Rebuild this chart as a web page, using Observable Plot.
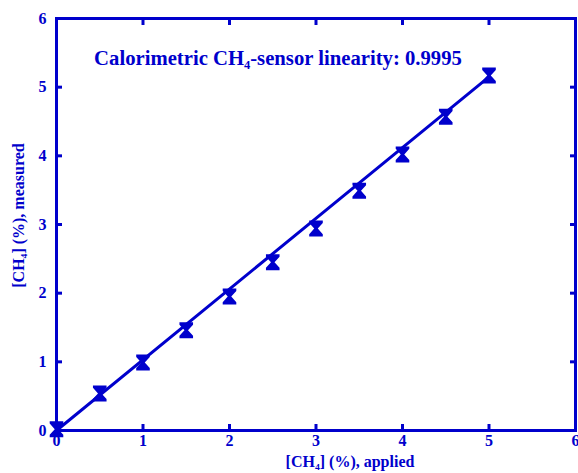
<!DOCTYPE html>
<html>
<head>
<meta charset="utf-8">
<script src="https://cdn.jsdelivr.net/npm/d3@7"></script>
<script src="https://cdn.jsdelivr.net/npm/@observablehq/plot@0.6"></script>
<style>
  html, body { margin: 0; padding: 0; background: #fff; }
</style>
</head>
<body>
<div id="chart"></div>
<script>
const applied = [0, 0.5, 1, 1.5, 2, 2.5, 3, 3.5, 4, 4.5, 5];
const measured = [0.02, 0.54, 0.99, 1.46, 1.95, 2.45, 2.94, 3.49, 4.02, 4.57, 5.17];
const fitX = [0, 5];
const fitY = [0, 5.15];
const xTicks = [0, 1, 2, 3, 4, 5, 6];
const yTicks = [0, 1, 2, 3, 4, 5, 6];
const title = "Calorimetric CH\u2084-sensor linearity: 0.9995";
const xLabel = "[CH\u2084] (%), applied";
const yLabel = "[CH\u2084] (%), measured";

const blue = "#0000cc";
const data = applied.map((x, i) => ({x, y: measured[i]}));
const fit = fitX.map((x, i) => ({x, y: fitY[i]}));

// hourglass marker: flat caps narrowing to a waist at the centre
const hourglass = {
  draw(ctx, size) {
    const r = Math.sqrt(size / Math.PI);
    const w = r * 0.85, h = r, b = r * 0.3, c = r * 0.22;
    ctx.moveTo(-w, -h);
    ctx.lineTo(w, -h);
    ctx.lineTo(w, -h + b);
    ctx.lineTo(c, 0);
    ctx.lineTo(w, h - b);
    ctx.lineTo(w, h);
    ctx.lineTo(-w, h);
    ctx.lineTo(-w, h - b);
    ctx.lineTo(-c, 0);
    ctx.lineTo(-w, -h + b);
    ctx.closePath();
  }
};

const chart = Plot.plot({
  width: 578,
  height: 473,
  marginLeft: 56,
  marginRight: 3,
  marginTop: 18,
  marginBottom: 43,
  x: {domain: [0, 6]},
  y: {domain: [0, 6]},
  style: {fontFamily: "'Liberation Serif', 'Times New Roman', serif", fontWeight: "bold", fontSize: "16px", color: blue, background: "#fff"},
  marks: [
    Plot.axisX({anchor: "bottom", ticks: xTicks, tickSize: -6, text: null, stroke: blue, strokeWidth: 3, label: null}),
    Plot.axisX({anchor: "top", ticks: xTicks, tickSize: -6, text: null, stroke: blue, strokeWidth: 3, label: null}),
    Plot.axisY({anchor: "left", ticks: yTicks, tickSize: -6, text: null, stroke: blue, strokeWidth: 3, label: null}),
    Plot.axisY({anchor: "right", ticks: yTicks, tickSize: -6, text: null, stroke: blue, strokeWidth: 3, label: null}),
    Plot.axisX({anchor: "bottom", ticks: xTicks, tickFormat: d3.format("d"), tickSize: 0, tickPadding: 4, fill: blue, label: null, fontSize: 16}),
    Plot.axisY({anchor: "left", ticks: yTicks, tickFormat: d3.format("d"), tickSize: 0, tickPadding: 10, fill: blue, label: null, fontSize: 16}),
    Plot.frame({stroke: blue, strokeWidth: 3}),
    Plot.line(fit, {x: "x", y: "y", stroke: blue, strokeWidth: 3}),
    Plot.dot(data, {x: "x", y: "y", r: 8, symbol: hourglass, fill: blue, stroke: "none"}),
    Plot.text([title], {frameAnchor: "top", lineAnchor: "middle", textAnchor: "middle", text: d => d, dx: -38, dy: 40, fontSize: 20.7, fill: blue}),
    Plot.text([xLabel], {frameAnchor: "bottom", lineAnchor: "middle", textAnchor: "middle", text: d => d, dx: 34, dy: 31, fontSize: 16, fill: blue}),
    Plot.text([yLabel], {frameAnchor: "left", lineAnchor: "middle", textAnchor: "middle", text: d => d, dx: -38, dy: -9, rotate: -90, fontSize: 16, fill: blue})
  ]
});
document.getElementById("chart").appendChild(chart);
</script>
</body>
</html>
